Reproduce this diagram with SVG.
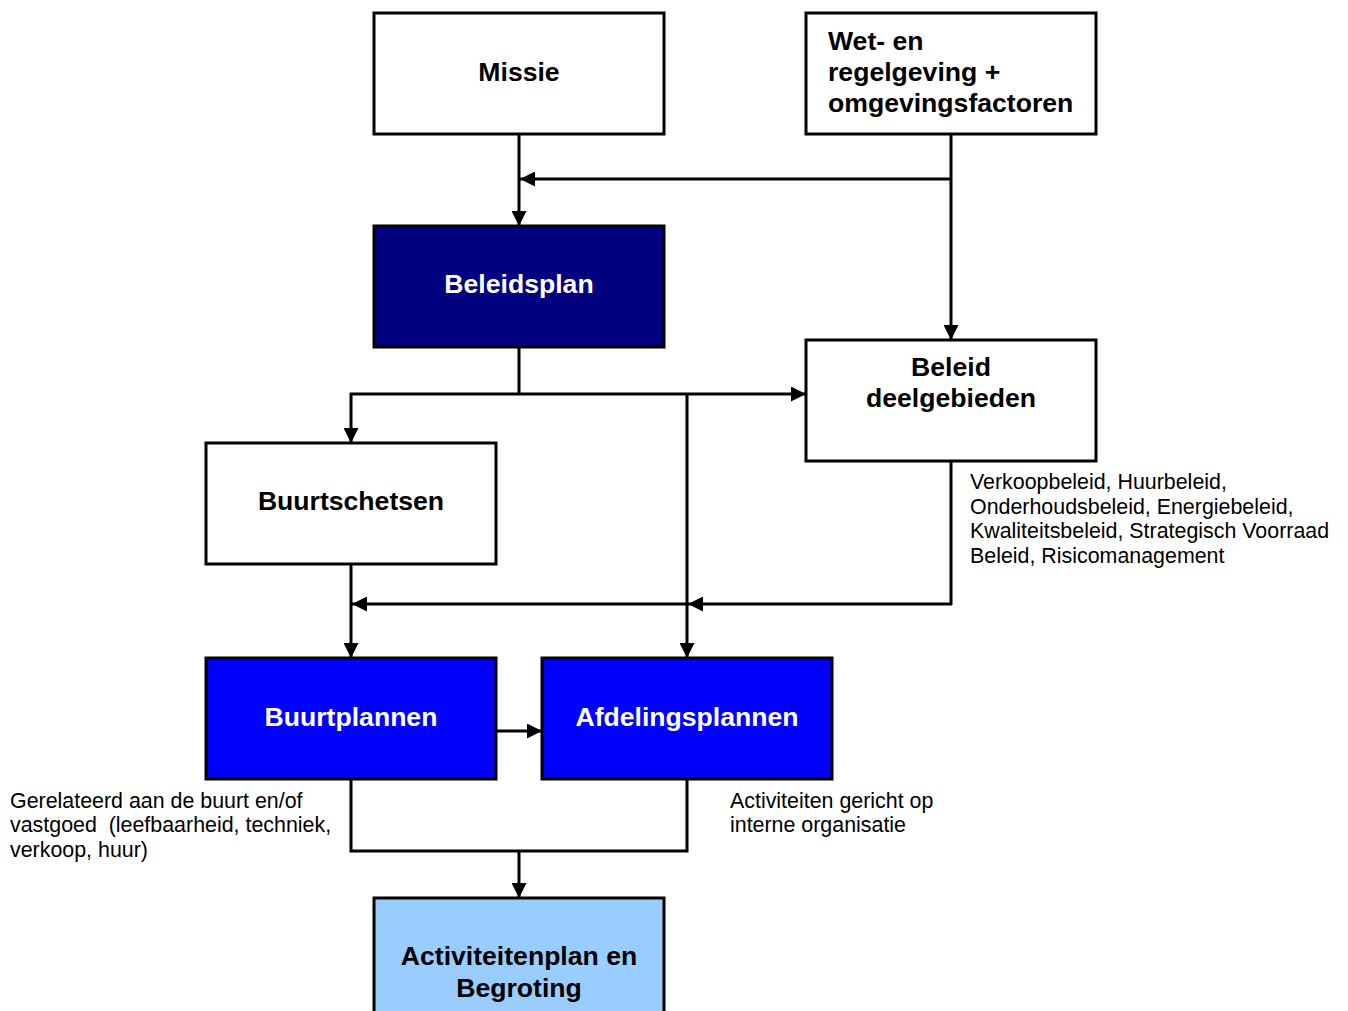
<svg xmlns="http://www.w3.org/2000/svg" width="1348" height="1011" viewBox="0 0 1348 1011">
  <style>
    .box { stroke: #000; stroke-width: 3; }
    .white { fill: #fff; }
    .navy { fill: #000080; }
    .blue { fill: #0000ff; }
    .light { fill: #99ccff; }
    .title { font-family: "Liberation Sans", Arial, sans-serif; font-weight: bold; font-size: 26.6px; text-anchor: middle; fill: #000; }
    .title.inv { fill: #fff; }
    .note { font-family: "Liberation Sans", Arial, sans-serif; font-size: 21.4px; fill: #000; }
    .wire { fill: none; stroke: #000; stroke-width: 3; }
    .arrow { marker-end: url(#head); }
  </style>
  <defs>
    <marker id="head" markerUnits="userSpaceOnUse" markerWidth="15" markerHeight="15" viewBox="0 0 15 15" refX="15" refY="7.5" orient="auto">
      <path d="M0,0 L15,7.5 L0,15 Z" fill="#000"/>
    </marker>
  </defs>
  <rect width="1348" height="1011" fill="#fff"/>

  <g id="connectors">
    <!-- Missie to Beleidsplan -->
    <line class="wire arrow" x1="519" y1="131" x2="519" y2="226"/>
    <!-- Wet- en regelgeving down to Beleid deelgebieden, with branch to the left -->
    <line class="wire arrow" x1="951" y1="134" x2="951" y2="340"/>
    <line class="wire arrow" x1="951" y1="179" x2="520" y2="179"/>
    <!-- Beleidsplan fan-out -->
    <line class="wire" x1="519" y1="347" x2="519" y2="394"/>
    <line class="wire arrow" x1="350" y1="394" x2="806" y2="394"/>
    <line class="wire arrow" x1="351" y1="393" x2="351" y2="443"/>
    <line class="wire arrow" x1="687" y1="394" x2="687" y2="658"/>
    <!-- Beleid deelgebieden back to the plans -->
    <line class="wire" x1="951" y1="461" x2="951" y2="605"/>
    <line class="wire arrow" x1="952" y1="604" x2="688" y2="604"/>
    <line class="wire arrow" x1="688" y1="604" x2="352" y2="604"/>
    <!-- Buurtschetsen to Buurtplannen -->
    <line class="wire arrow" x1="351" y1="564" x2="351" y2="658"/>
    <!-- Buurtplannen to Afdelingsplannen -->
    <line class="wire arrow" x1="496" y1="731" x2="542" y2="731"/>
    <!-- Plans merge into Activiteitenplan -->
    <polyline class="wire" points="351,779 351,851 687,851 687,779"/>
    <line class="wire arrow" x1="519" y1="851" x2="519" y2="898"/>
  </g>

  <g id="missie">
    <rect class="box white" x="374" y="13" width="290" height="121"/>
    <text class="title" x="519" y="81">Missie</text>
  </g>

  <g id="wetgeving">
    <rect class="box white" x="806" y="13" width="290" height="121"/>
    <text class="title" x="828" y="50" style="text-anchor:start">Wet- en</text>
    <text class="title" x="828" y="81" style="text-anchor:start">regelgeving +</text>
    <text class="title" x="828" y="112" style="text-anchor:start">omgevingsfactoren</text>
  </g>

  <g id="beleidsplan">
    <rect class="box navy" x="374" y="226" width="290" height="121"/>
    <text class="title inv" x="519" y="293">Beleidsplan</text>
  </g>

  <g id="beleid-deelgebieden">
    <rect class="box white" x="806" y="340" width="290" height="121"/>
    <text class="title" x="951" y="376">Beleid</text>
    <text class="title" x="951" y="407">deelgebieden</text>
  </g>

  <g id="buurtschetsen">
    <rect class="box white" x="206" y="443" width="290" height="121"/>
    <text class="title" x="351" y="510">Buurtschetsen</text>
  </g>

  <g id="buurtplannen">
    <rect class="box blue" x="206" y="658" width="290" height="121"/>
    <text class="title inv" x="351" y="726">Buurtplannen</text>
  </g>

  <g id="afdelingsplannen">
    <rect class="box blue" x="542" y="658" width="290" height="121"/>
    <text class="title inv" x="687" y="726">Afdelingsplannen</text>
  </g>

  <g id="activiteitenplan">
    <rect class="box light" x="374" y="898" width="290" height="130"/>
    <text class="title" x="519" y="965">Activiteitenplan en</text>
    <text class="title" x="519" y="997">Begroting</text>
  </g>

  <g id="notes">
    <text class="note" x="970" y="489">Verkoopbeleid, Huurbeleid,</text>
    <text class="note" x="970" y="514">Onderhoudsbeleid, Energiebeleid,</text>
    <text class="note" x="970" y="538">Kwaliteitsbeleid, Strategisch Voorraad</text>
    <text class="note" x="970" y="563">Beleid, Risicomanagement</text>

    <text class="note" x="10" y="808">Gerelateerd aan de buurt en/of</text>
    <text class="note" x="10" y="832" xml:space="preserve">vastgoed  (leefbaarheid, techniek,</text>
    <text class="note" x="10" y="857">verkoop, huur)</text>

    <text class="note" x="730" y="808">Activiteiten gericht op</text>
    <text class="note" x="730" y="832">interne organisatie</text>
  </g>
</svg>
